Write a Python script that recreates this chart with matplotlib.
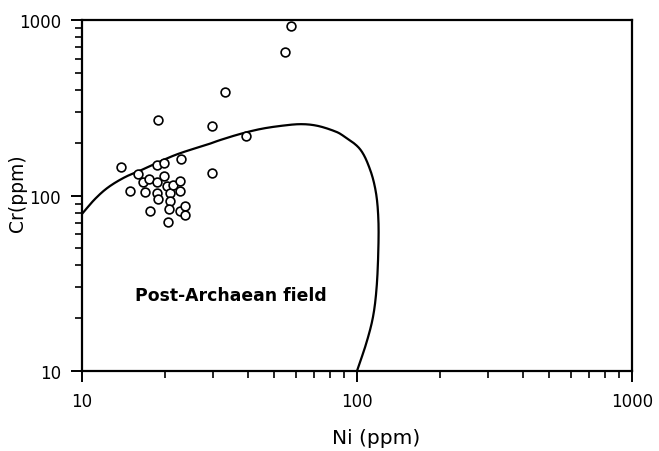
import numpy as np
import matplotlib
matplotlib.use('Agg')
import matplotlib.pyplot as plt
from matplotlib.ticker import LogLocator, NullFormatter, FixedLocator, FixedFormatter

# 試料データ (Ni, Cr ppm)
ni = [57.5, 54.8, 33.1, 18.9, 29.6, 39.4, 29.7, 23.0, 13.9, 14.9, 16.0,
      16.7, 16.9, 17.6, 17.7, 18.7, 18.8, 19.8, 19.8, 18.8, 18.9, 20.3,
      20.9, 20.9, 20.8, 20.6, 21.5, 22.7, 22.8, 22.7, 23.6, 23.7]
cr = [921, 655, 387, 269, 250, 217, 134, 161, 145, 106, 133,
      119, 105, 125, 81.6, 120, 150, 153, 130, 104, 95.5, 113.7,
      104, 92.7, 83.8, 70.9, 114.8, 121, 106, 81.6, 87.5, 77.4]

# Post-Archaean 領域の境界線
field_ni = [10, 11.15, 12.46, 14.3, 16.5, 21.8, 28.8, 31.8, 37.5, 44.4, 52.5, 62.1,
            71.4, 82.1, 89.1, 102.5, 111.5, 117.2, 119.6, 119.6, 118, 114.6, 108.4, 100]
field_cr = [78.5, 95.5, 111.4, 127, 140, 170, 196, 207, 224, 239, 249, 255,
            250, 234, 219, 184, 141, 104, 73.5, 49.5, 30.6, 20.7, 14.6, 10]

tick_vals = [10, 100, 1000]
tick_labels = ['10', '100', '1000']


def catmull(p, t, tt):
    # Catmull-Rom補間（端点は外挿した補助点を使う）
    p = np.r_[2 * p[0] - p[1], p, 2 * p[-1] - p[-2]]
    out = np.empty_like(tt)
    n = len(t)
    for k, s in enumerate(tt):
        i = min(np.searchsorted(t, s, side='right') - 1, n - 2)
        p0, p1, p2, p3 = p[i], p[i + 1], p[i + 2], p[i + 3]
        u = (s - t[i]) / (t[i + 1] - t[i])
        out[k] = 0.5 * ((2 * p1) + (-p0 + p2) * u + (2 * p0 - 5 * p1 + 4 * p2 - p3) * u ** 2
                        + (-p0 + 3 * p1 - 3 * p2 + p3) * u ** 3)
    return out


fig = plt.figure(figsize=(6.59, 4.52), dpi=100)
ax = fig.add_axes([0.1244, 0.177, 0.8346, 0.7765])

# 境界線を対数空間で滑らかに補間
lx = np.log10(field_ni)
ly = np.log10(field_cr)
t = np.r_[0, np.cumsum(np.hypot(np.diff(lx), np.diff(ly)))]
tt = np.linspace(0, t[-1], 800)
ax.plot(10 ** catmull(lx, t, tt), 10 ** catmull(ly, t, tt),
        color='black', lw=1.6, solid_capstyle='round')

ax.scatter(ni, cr, s=40, facecolors='white', edgecolors='black', linewidths=1.2, zorder=3)

ax.set_xscale('log')
ax.set_yscale('log')
ax.set_xlim(10, 1000)
ax.set_ylim(10, 1000)

ax.xaxis.set_major_locator(FixedLocator(tick_vals))
ax.xaxis.set_major_formatter(FixedFormatter(tick_labels))
ax.yaxis.set_major_locator(FixedLocator(tick_vals))
ax.yaxis.set_major_formatter(FixedFormatter(tick_labels))
for axis in (ax.xaxis, ax.yaxis):
    axis.set_minor_locator(LogLocator(base=10, subs=np.arange(2, 10)))
    axis.set_minor_formatter(NullFormatter())

ax.tick_params(which='major', direction='out', length=8, width=1.4, labelsize=12, pad=7)
ax.tick_params(which='minor', direction='out', length=5, width=1.2)
for sp in ax.spines.values():
    sp.set_linewidth(1.6)

ax.text(15.6, 27.1, 'Post-Archaean field', fontsize=12.4, fontweight='bold',
        va='center', ha='left')

ax.set_xlabel('Ni (ppm)', fontsize=14.5)
ax.set_ylabel('Cr(ppm)', fontsize=13.5)
ax.xaxis.set_label_coords(0.535, -0.162)
ax.yaxis.set_label_coords(-0.1, 0.51)

fig.savefig('out.png', dpi=100)
